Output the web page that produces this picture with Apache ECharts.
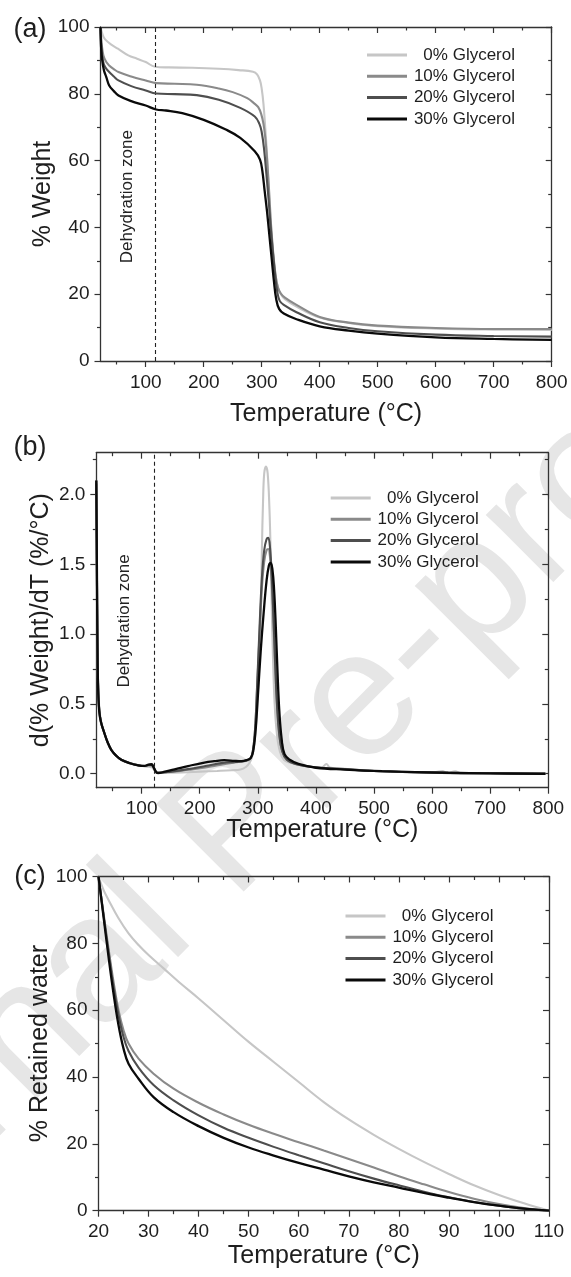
<!DOCTYPE html>
<html><head><meta charset="utf-8">
<script src="https://cdn.jsdelivr.net/npm/echarts@6/dist/echarts.min.js"></script>
<style>html,body{margin:0;padding:0;background:#fff}#c{width:571px;height:1277px}</style>
</head><body><div id="c"></div>
<script>
// ---------------- DATA ----------------
const seriesNames = ['0% Glycerol', '10% Glycerol', '20% Glycerol', '30% Glycerol'];

// (a) % Weight vs Temperature
const weight0 = [[22,100],[26,97.5],[30,96.3],[40,94.8],[52,93.5],[70,91.5],[85,90.5],[100,89.5],[116,88.1],[140,87.9],[180,87.8],[226,87.5],[260,87.1],[285,86.6],[292,85.8],[297,84],[300,81.5],[303,77],[306,70],[309,62],[311,55],[313,48],[316,40],[320,31.5],[324,25.5],[328,22],[333,20],[340,18.5],[360,16.3],[400,13],[450,11.4],[500,10.4],[600,9.7],[700,9.4],[800,9.3]];
const weight10 = [[22,100],[24,95],[27,91.5],[32,89.5],[37,88.5],[45,87.4],[53,86.5],[75,85.2],[100,84],[118,83.2],[150,83],[188,82.7],[226,81.6],[250,80.5],[275,78.7],[288,77],[294,76],[299,74],[303,71],[306,67],[309,61],[312,53],[314,47],[316,41],[320,32],[324,25.5],[328,22],[333,20.2],[340,19],[360,16.8],[400,13.2],[450,11.5],[500,10.6],[600,9.9],[700,9.6],[800,9.6]];
const weight20 = [[22,100],[23.5,94],[26,90],[30,88],[37,86.5],[45,85.2],[53,84],[75,82.3],[100,81],[118,80.1],[150,79.9],[188,79.6],[226,78.2],[263,75.8],[288,73.2],[296,71],[300,68.5],[304,63.5],[308,56],[312,48],[315,41],[319,33],[323,26],[327,20.5],[331,18],[338,16.8],[360,14.6],[400,11.6],[450,9.9],[500,8.9],[600,7.9],[700,7.5],[800,7.3]];
const weight30 = [[22,100],[23,94],[25,90],[28,87],[32,85],[37,82.5],[45,80.8],[53,79.5],[75,77.8],[100,76.5],[118,75.3],[135,75],[163,74.2],[200,72.2],[238,69.3],[263,66.8],[288,62.8],[297,60.3],[301,57],[305,51],[309,45],[313,38],[317,31],[321,24],[325,18.5],[330,15.6],[338,14.2],[360,12.5],[400,10.4],[450,9.1],[500,8.2],[600,7.1],[700,6.6],[800,6.3]];

// (b) d(% Weight)/dT vs Temperature
const deriv0 = [[22,2.05],[23,1.45],[24,0.95],[25,0.68],[27,0.48],[30,0.38],[36,0.29],[42,0.22],[48,0.17],[56,0.13],[65,0.1],[80,0.075],[95,0.06],[105,0.052],[113,0.05],[118,0.045],[122,0.025],[126,0.01],[140,0.008],[170,0.01],[200,0.015],[230,0.02],[255,0.025],[270,0.03],[280,0.05],[286,0.08],[290,0.12],[294,0.22],[298,0.42],[302,0.75],[305,1.1],[307,1.6],[309,1.95],[311,2.15],[314,2.2],[317,2.15],[320,1.9],[322,1.6],[324,1.2],[326,0.85],[329,0.5],[333,0.28],[338,0.16],[345,0.1],[355,0.08],[380,0.055],[410,0.045],[418,0.07],[424,0.045],[450,0.035],[500,0.02],[550,0.012],[600,0.008],[618,0.02],[625,0.005],[640,0.018],[648,0.004],[700,0.003],[750,0.001],[795,0]];
const deriv10 = [[22,2.08],[23,1.48],[24,0.92],[25,0.65],[27,0.46],[30,0.37],[36,0.29],[42,0.22],[48,0.17],[56,0.13],[65,0.1],[80,0.075],[95,0.06],[105,0.055],[113,0.06],[118,0.06],[122,0.03],[126,0.008],[150,0.012],[180,0.028],[210,0.045],[237,0.065],[260,0.08],[277,0.09],[285,0.1],[290,0.13],[295,0.3],[299,0.63],[303,1.0],[307,1.33],[311,1.52],[315,1.6],[318,1.61],[321,1.55],[324,1.36],[327,1.08],[330,0.75],[333,0.48],[337,0.27],[342,0.16],[350,0.1],[365,0.07],[400,0.045],[450,0.032],[500,0.02],[600,0.008],[700,0.003],[795,0]];
const deriv20 = [[22,2.1],[23,1.5],[24,0.93],[25,0.64],[27,0.46],[30,0.37],[36,0.29],[42,0.22],[48,0.17],[56,0.13],[65,0.1],[80,0.075],[95,0.06],[105,0.056],[113,0.064],[118,0.065],[122,0.035],[126,0.006],[150,0.015],[180,0.033],[210,0.055],[240,0.078],[262,0.085],[280,0.095],[287,0.11],[291,0.15],[295,0.3],[299,0.65],[303,1.05],[307,1.4],[311,1.6],[315,1.68],[318,1.69],[321,1.62],[324,1.42],[327,1.12],[330,0.78],[333,0.5],[337,0.28],[342,0.16],[350,0.1],[365,0.07],[400,0.046],[450,0.033],[500,0.02],[600,0.008],[700,0.003],[795,0]];
const deriv30 = [[22,2.1],[23,1.5],[24,0.92],[25,0.63],[27,0.45],[30,0.37],[36,0.29],[42,0.22],[48,0.17],[56,0.13],[65,0.1],[80,0.075],[94,0.06],[105,0.056],[112,0.066],[117,0.068],[120,0.05],[124,0.02],[128,0.005],[140,0.015],[160,0.035],[180,0.055],[208,0.08],[225,0.09],[242,0.097],[260,0.092],[272,0.09],[282,0.1],[288,0.114],[292,0.16],[296,0.3],[300,0.55],[305,0.88],[310,1.15],[315,1.38],[319,1.49],[322,1.51],[325,1.47],[328,1.32],[331,1.05],[334,0.72],[337,0.45],[341,0.25],[346,0.14],[355,0.1],[370,0.07],[400,0.043],[450,0.03],[514,0.019],[628,0.007],[700,0.003],[795,0]];

// (c) % Retained water vs Temperature
const water0 = [[20,100],[21,96],[22,93],[24,87.5],[26,83],[28,79.5],[30,76.5],[33,72.5],[36,68.5],[40,63.5],[45,57],[50,50.5],[55,44.5],[60,38.5],[65,32.5],[70,27.3],[75,22.7],[80,18.5],[85,14.6],[90,11],[95,7.6],[100,4.7],[105,2.2],[110,0]];
const water10 = [[20,100],[21,89],[22,78.5],[23,68.5],[24,60],[25,54],[26,50],[28,45.5],[31,41],[35,36.5],[40,32.3],[45,28.8],[50,25.7],[55,23],[60,20.5],[65,18],[70,15.5],[75,12.9],[80,10.3],[85,7.9],[90,5.6],[95,3.6],[100,2],[105,0.8],[110,0]];
const water20 = [[20,100],[21,88.5],[22,77.5],[23,67],[24,58.5],[25,52],[26,47.8],[28,42.8],[31,37.6],[35,33],[40,28.5],[45,24.8],[50,21.8],[55,19.1],[60,16.6],[65,14.2],[70,11.8],[75,9.6],[80,7.6],[85,5.7],[90,4],[95,2.6],[100,1.5],[105,0.6],[110,0]];
const water30 = [[20,100],[21,88],[22,76],[23,65],[24,55.5],[25,48.5],[26,44],[28,39.5],[31,34],[35,29.5],[40,25.3],[45,21.8],[50,18.9],[55,16.5],[60,14.3],[65,12.3],[70,10.3],[75,8.5],[80,6.9],[85,5.3],[90,3.9],[95,2.6],[100,1.5],[105,0.6],[110,0]];

// axis ranges & ticks
const tempRange = [22, 800];
const tempMajor = [100, 200, 300, 400, 500, 600, 700, 800];
const tempMinor = [50, 150, 250, 350, 450, 550, 650, 750];
const weightRange = [0, 100];
const pctMajor = [0, 20, 40, 60, 80, 100];
const pctMinor = [10, 30, 50, 70, 90];
const derivRange = [-0.1, 2.3];
const derivMajor = [0, 0.5, 1.0, 1.5, 2.0];
const derivMinor = [0.25, 0.75, 1.25, 1.75, 2.25];
const waterTempRange = [20, 110];
const waterTempMajor = [20, 30, 40, 50, 60, 70, 80, 90, 100, 110];
const waterTempMinor = [25, 35, 45, 55, 65, 75, 85, 95, 105];
const dehydrationA = 117;
const dehydrationB = 121;
const dehydrationLabelA = [68, 49.2];
const dehydrationLabelB = [69.5, 1.095];

// ---------------- STYLE ----------------
const FONT = '"Liberation Sans", Arial, Helvetica, sans-serif';
const AX = '#333';
const TXT = '#1e1e1e';
const colors = ['#c6c6c6', '#8a8a8a', '#4e4e4e', '#0a0a0a'];

function axisSet(dim, gridIndex, range, majors, minors, fmt, name, nameGap) {
  const isX = dim === 'x';
  const posMain = isX ? 'bottom' : 'left';
  const posOpp = isX ? 'top' : 'right';
  const mk = (pos, vals, len, inside, showLine, showLabel) => ({
    type: 'value', gridIndex, min: range[0], max: range[1], position: pos,
    splitLine: {show: false}, minorTick: {show: false},
    axisLine: {show: showLine, onZero: false, lineStyle: {color: AX, width: 1.3}},
    axisTick: {show: true, inside, length: len, customValues: vals, lineStyle: {color: AX, width: 1.2}},
    axisLabel: showLabel ? {show: true, customValues: vals, formatter: fmt, fontSize: 19, color: TXT, margin: isX ? 12 : 11, fontFamily: FONT} : {show: false}
  });
  const main = mk(posMain, majors, 6, false, true, true);
  main.name = name; main.nameLocation = 'middle'; main.nameGap = nameGap;
  main.nameMoveOverlap = false;
  main.nameTextStyle = {fontSize: 25, color: TXT, fontFamily: FONT};
  return [main, mk(posMain, minors, 3.5, false, false, false), mk(posOpp, majors, 6, true, true, false), mk(posOpp, minors, 3.5, true, false, false)];
}

const intFmt = v => String(Math.round(v));
const decFmt = v => v.toFixed(1);

const xAxes = [].concat(
  axisSet('x', 0, tempRange, tempMajor, tempMinor, intFmt, 'Temperature (°C)', 41),
  axisSet('x', 1, tempRange, tempMajor, tempMinor, intFmt, 'Temperature (°C)', 30),
  axisSet('x', 2, waterTempRange, waterTempMajor, waterTempMinor, intFmt, 'Temperature (°C)', 33)
);
const yAxes = [].concat(
  axisSet('y', 0, weightRange, pctMajor, pctMinor, intFmt, '% Weight', 45),
  axisSet('y', 1, derivRange, derivMajor, derivMinor, decFmt, 'd(% Weight)/dT (%/°C)', 43),
  axisSet('y', 2, weightRange, pctMajor, pctMinor, intFmt, '% Retained water', 46)
);

const panelData = [
  [weight0, weight10, weight20, weight30],
  [deriv0, deriv10, deriv20, deriv30],
  [water0, water10, water20, water30]
];
const dehyd = [dehydrationA, dehydrationB, null];

const series = [];
panelData.forEach((arrs, g) => {
  arrs.forEach((d, i) => {
    const s = {
      type: 'line', name: seriesNames[i], data: d,
      xAxisIndex: g * 4, yAxisIndex: g * 4,
      symbol: 'none', showSymbol: false, smooth: 0.4,
      lineStyle: {color: colors[i], width: i === 3 ? 2.3 : 2.1},
      itemStyle: {color: colors[i]},
      z: 3 + i
    };
    if (i === 3 && dehyd[g] !== null) {
      s.markLine = {silent: true, symbol: ['none', 'none'], label: {show: false},
        lineStyle: {type: [4, 3], color: '#222', width: 1.1}, data: [{xAxis: dehyd[g]}]};
    }
    series.push(s);
  });
});

const legendBase = {
  orient: 'vertical', icon: 'rect', itemWidth: 40, itemHeight: 3, itemGap: 4.3,
  data: seriesNames, selectedMode: false,
  formatter: n => '{t|' + n + '}',
  textStyle: {rich: {t: {width: 103, align: 'right', fontSize: 17, lineHeight: 17, color: TXT, fontFamily: FONT}}}
};

const chart = echarts.init(document.getElementById('c'), null, {renderer: 'canvas'});
const option = {
  backgroundColor: '#fff',
  animation: false,
  textStyle: {fontFamily: FONT},
  grid: [
    {left: 100.5, top: 27, width: 451.2, height: 334, outerBoundsMode: 'none'},
    {left: 96.3, top: 452.7, width: 452, height: 335, outerBoundsMode: 'none'},
    {left: 98.5, top: 876.5, width: 450.5, height: 334.2, outerBoundsMode: 'none'}
  ],
  xAxis: xAxes,
  yAxis: yAxes,
  legend: [
    Object.assign({}, legendBase, {left: 362, top: 41.5}),
    Object.assign({}, legendBase, {left: 325.7, top: 484.5}),
    Object.assign({}, legendBase, {left: 340.5, top: 902.5})
  ],
  series: series
};
chart.setOption(option);

const pa = chart.convertToPixel({xAxisIndex: 0, yAxisIndex: 0}, dehydrationLabelA);
const pb = chart.convertToPixel({xAxisIndex: 4, yAxisIndex: 4}, dehydrationLabelB);
const dzStyle = {text: 'Dehydration zone', fontSize: 17, fill: '#222', fontFamily: FONT, align: 'center', verticalAlign: 'middle'};
chart.setOption({
  graphic: [
    {type: 'text', z: -10, x: 237, y: 828, rotation: Math.PI / 4,
      style: {text: 'Journal Pre-proof', fontSize: 180, fill: '#e6e6e6', fontFamily: FONT, align: 'center', verticalAlign: 'middle'}},
    {type: 'text', x: 30, y: 30, style: {text: '(a)', fontSize: 27, fill: TXT, fontFamily: FONT, align: 'center', verticalAlign: 'middle'}},
    {type: 'text', x: 30, y: 448, style: {text: '(b)', fontSize: 27, fill: TXT, fontFamily: FONT, align: 'center', verticalAlign: 'middle'}},
    {type: 'text', x: 30, y: 877, style: {text: '(c)', fontSize: 27, fill: TXT, fontFamily: FONT, align: 'center', verticalAlign: 'middle'}},
    {type: 'text', x: pa[0], y: pa[1], rotation: Math.PI / 2, style: dzStyle},
    {type: 'text', x: pb[0], y: pb[1], rotation: Math.PI / 2, style: dzStyle}
  ]
});
</script></body></html>
